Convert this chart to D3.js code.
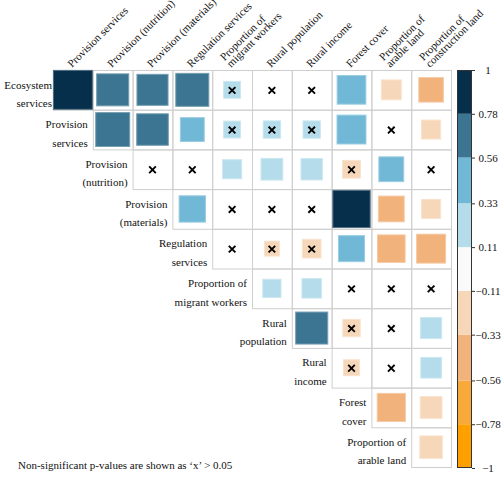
<!DOCTYPE html>
<html>
<head>
<meta charset="utf-8">
<script src="https://cdn.jsdelivr.net/npm/d3@7/dist/d3.min.js"></script>
<style>
  html, body { margin: 0; padding: 0; background: #fff; }
</style>
</head>
<body>
<svg id="chart" width="504" height="480"></svg>
<script>
// ---- data ----
const rowLabels = [
  ["Ecosystem", "services"],
  ["Provision", "services"],
  ["Provision", "(nutrition)"],
  ["Provision", "(materials)"],
  ["Regulation", "services"],
  ["Proportion of", "migrant workers"],
  ["Rural", "population"],
  ["Rural", "income"],
  ["Forest", "cover"],
  ["Proportion of", "arable land"]
];
const colLabels = [
  ["Provision services"],
  ["Provision (nutrition)"],
  ["Provision (materials)"],
  ["Regulation services"],
  ["Proportion of", "migrant workers"],
  ["Rural population"],
  ["Rural income"],
  ["Forest cover"],
  ["Proportion of", "arable land"],
  ["Proportion of", "construction land"]
];
// correlation values: row i holds columns i..9
const corrValues = [
  [0.96, 0.65, 0.61, 0.69, 0.18, 0.05, 0.04, 0.52, -0.25, -0.38],
  [0.73, 0.63, 0.36, 0.18, 0.19, 0.19, 0.53, 0.03, -0.23],
  [0.05, 0.04, 0.23, 0.30, 0.29, -0.20, 0.39, 0.05],
  [0.44, 0.06, 0.03, 0.04, 0.88, -0.42, -0.23],
  [0.05, -0.14, -0.22, 0.43, -0.48, -0.53],
  [0.21, 0.24, 0.05, 0.04, 0.07],
  [0.65, -0.19, -0.05, 0.28],
  [-0.16, -0.05, 0.27],
  [-0.50, -0.30],
  [-0.32]
];
// non-significant flags (shown with 'x'), same layout as corrValues
const nonSig = [
  [0, 0, 0, 0, 1, 1, 1, 0, 0, 0],
  [0, 0, 0, 1, 1, 1, 0, 1, 0],
  [1, 1, 0, 0, 0, 1, 0, 1],
  [0, 1, 1, 1, 0, 0, 0],
  [1, 1, 1, 0, 0, 0],
  [0, 0, 1, 1, 1],
  [0, 1, 1, 0],
  [1, 1, 0],
  [0, 0],
  [0]
];
const breaks = [-0.78, -0.56, -0.33, -0.11, 0.11, 0.33, 0.56, 0.78];
const binColors = ["#ffa000", "#f8a93b", "#f1b27b", "#f6d7b9", "#fafafa",
                   "#b5dcea", "#71b8d6", "#3b7591", "#062f4b"];
const tickValues = [1, 0.78, 0.56, 0.33, 0.11, -0.11, -0.33, -0.56, -0.78, -1];
const tickLabels = ["1", "0.78", "0.56", "0.33", "0.11", "\u22120.11", "\u22120.33", "\u22120.56", "\u22120.78", "\u22121"];
const footnote = "Non-significant p-values are shown as \u2018x\u2019 > 0.05";

// ---- layout ----
const FONT = "Liberation Serif";
const svg = d3.select("#chart").style("font-family", FONT);
const gridLeft = 53, gridRight = 451, gridTop = 70, gridBottom = 467;
const fontSize = 11;

const x = d3.scaleBand().domain(d3.range(colLabels.length)).range([gridLeft, gridRight]);
const y = d3.scaleBand().domain(d3.range(rowLabels.length)).range([gridTop, gridBottom]);
const color = d3.scaleThreshold().domain(breaks).range(binColors);

const cells = [];
corrValues.forEach((row, i) => {
  row.forEach((v, k) => {
    const j = i + k;
    cells.push({ i, j, v, ns: nonSig[i][k] });
  });
});

// grid cells
svg.append("g").selectAll("rect").data(cells).join("rect")
  .attr("x", d => x(d.j) + 0.5)
  .attr("y", d => y(d.i) + 0.5)
  .attr("width", x.bandwidth())
  .attr("height", y.bandwidth())
  .attr("fill", "none")
  .attr("stroke", "#cfcfcf")
  .attr("stroke-width", 1);

// squares
const bw = x.bandwidth(), bh = y.bandwidth();
svg.append("g").selectAll("rect").data(cells).join("rect")
  .attr("x", d => x(d.j) + bw / 2 - Math.sqrt(Math.abs(d.v)) * bw / 2)
  .attr("y", d => y(d.i) + bh / 2 - Math.sqrt(Math.abs(d.v)) * bh / 2)
  .attr("width", d => Math.sqrt(Math.abs(d.v)) * bw)
  .attr("height", d => Math.sqrt(Math.abs(d.v)) * bh)
  .attr("fill", d => color(d.v))
  .attr("stroke", d => d3.interpolateRgb(color(d.v), "#ffffff")(0.3))
  .attr("stroke-width", 1);

// 'x' marks
const xs = 3.3;
svg.append("g").selectAll("path").data(cells.filter(d => d.ns)).join("path")
  .attr("d", d => {
    const cx = x(d.j) + bw / 2, cy = y(d.i) + bh / 2 + 0.5;
    return `M${cx - xs},${cy - xs}L${cx + xs},${cy + xs}M${cx - xs},${cy + xs}L${cx + xs},${cy - xs}`;
  })
  .attr("stroke", "#000")
  .attr("stroke-width", 1.9)
  .attr("fill", "none");

// column labels (rotated)
const colG = svg.append("g").style("font-size", fontSize + "px").style("font-family", FONT).attr("fill", "#111");
colLabels.forEach((lines, j) => {
  const t = colG.append("text")
    .attr("transform", `translate(${x(j) + bw / 2 - 1},${gridTop - 2}) rotate(-45)`);
  lines.forEach((ln, k) => {
    t.append("tspan").attr("x", 0)
      .attr("y", (k - (lines.length - 1)) * 9.5)
      .text(ln);
  });
});

// row labels
const rowG = svg.append("g").style("font-size", fontSize + "px").style("font-family", FONT)
  .attr("fill", "#111").attr("text-anchor", "end");
rowLabels.forEach((lines, i) => {
  const t = rowG.append("text");
  const xr = i === 0 ? gridLeft - 1 : x(i) - 5;
  lines.forEach((ln, k) => {
    t.append("tspan").attr("x", xr).attr("y", y(i) + 18.5 + k * 18.5).text(ln);
  });
});

// color bar
const barX = 457, barW = 15;
const cy = d3.scaleLinear().domain([-1, 1]).range([gridBottom + 1, gridTop]);
const edges = [-1, ...breaks, 1];
const bins = d3.range(binColors.length).map(k => ({ lo: edges[k], hi: edges[k + 1], c: binColors[k] }));
svg.append("g").selectAll("rect").data(bins).join("rect")
  .attr("x", barX)
  .attr("y", d => cy(d.hi))
  .attr("width", barW)
  .attr("height", d => cy(d.lo) - cy(d.hi))
  .attr("fill", d => d.c);
svg.append("rect")
  .attr("x", barX + 0.5).attr("y", cy(1) + 0.5)
  .attr("width", barW - 1).attr("height", cy(-1) - cy(1) - 1)
  .attr("fill", "none").attr("stroke", "#333").attr("stroke-width", 1);

const axis = d3.axisRight(cy)
  .tickValues(tickValues)
  .tickSize(3)
  .tickFormat((d, k) => tickLabels[k]);
const axG = svg.append("g").attr("transform", `translate(${barX + barW},0)`).call(axis);
axG.select(".domain").remove();
axG.selectAll(".tick line").attr("stroke", "#333");
axG.selectAll(".tick text")
  .attr("x", 16)
  .attr("text-anchor", "middle")
  .style("font-family", FONT)
  .style("font-size", fontSize + "px")
  .attr("fill", "#111");

// footnote
svg.append("text")
  .attr("x", 18).attr("y", 469)
  .style("font-size", fontSize + "px")
  .style("font-family", FONT)
  .attr("fill", "#111")
  .text(footnote);
</script>
</body>
</html>
